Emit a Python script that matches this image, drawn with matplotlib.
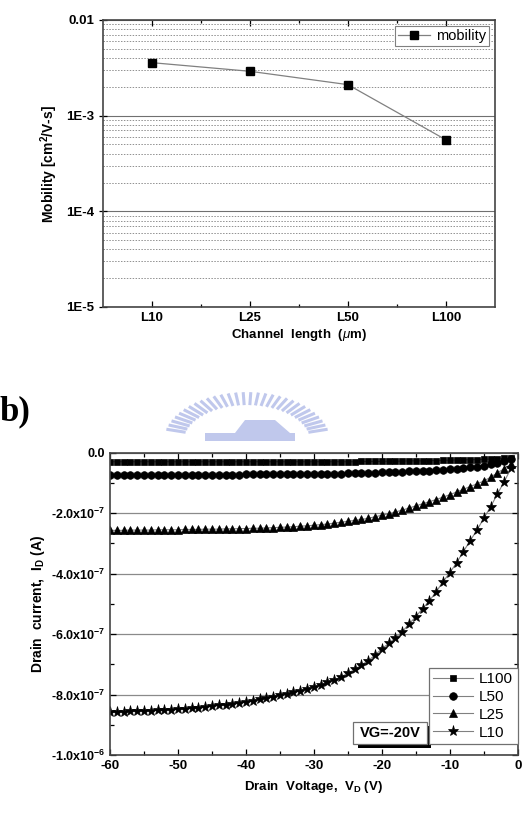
import numpy as np
import matplotlib
matplotlib.use("Agg")
import matplotlib.pyplot as plt
from matplotlib.ticker import LogLocator, NullFormatter, FixedLocator

plt.rcParams['font.family'] = ['Liberation Sans', 'DejaVu Sans']
plt.rcParams['mathtext.fontset'] = 'custom'
plt.rcParams['mathtext.rm'] = 'Liberation Sans'
plt.rcParams['mathtext.it'] = 'Liberation Sans:italic'
plt.rcParams['mathtext.bf'] = 'Liberation Sans:bold'

# ---- data: mobility vs channel length
channels = ['L10', 'L25', 'L50', 'L100']
mobility = [3.58e-3, 2.91e-3, 2.11e-3, 5.6e-4]

# ---- data: output curves, VG = -20 V
vd = list(range(-60, 0))
id_L100 = [-0.30] * 35 + [-0.30, -0.30, -0.29, -0.29, -0.29, -0.29, -0.28, -0.28, -0.28, -0.27,
                          -0.27, -0.27, -0.26, -0.26, -0.25, -0.25, -0.24, -0.24, -0.23, -0.23,
                          -0.22, -0.21, -0.20, -0.19, -0.18]
id_L50 = [-0.74, -0.74, -0.74, -0.74, -0.74, -0.74, -0.74, -0.74, -0.74, -0.74,
          -0.74, -0.74, -0.73, -0.73, -0.73, -0.73, -0.73, -0.73, -0.73, -0.73,
          -0.72, -0.72, -0.72, -0.72, -0.72, -0.72, -0.71, -0.71, -0.71, -0.71,
          -0.71, -0.70, -0.70, -0.69, -0.69, -0.68, -0.68, -0.67, -0.67, -0.66,
          -0.65, -0.64, -0.64, -0.63, -0.62, -0.61, -0.60, -0.59, -0.58, -0.57,
          -0.55, -0.53, -0.51, -0.49, -0.46, -0.43, -0.39, -0.34, -0.28, -0.21]
id_L25 = [-2.57, -2.57, -2.57, -2.56, -2.56, -2.56, -2.56, -2.55, -2.55, -2.55,
          -2.55, -2.54, -2.54, -2.54, -2.53, -2.53, -2.53, -2.52, -2.52, -2.51,
          -2.51, -2.50, -2.50, -2.49, -2.48, -2.47, -2.46, -2.45, -2.43, -2.42,
          -2.40, -2.38, -2.36, -2.33, -2.30, -2.27, -2.24, -2.21, -2.17, -2.12,
          -2.07, -2.02, -1.96, -1.90, -1.83, -1.76, -1.69, -1.62, -1.55, -1.47,
          -1.39, -1.30, -1.21, -1.12, -1.03, -0.94, -0.81, -0.67, -0.53, -0.38]
id_L10 = [-8.59, -8.58, -8.57, -8.56, -8.55, -8.54, -8.53, -8.52, -8.51, -8.50,
          -8.49, -8.47, -8.45, -8.43, -8.41, -8.39, -8.36, -8.33, -8.30, -8.27,
          -8.24, -8.20, -8.16, -8.12, -8.08, -8.03, -7.98, -7.93, -7.87, -7.81,
          -7.75, -7.68, -7.60, -7.52, -7.41, -7.30, -7.17, -7.02, -6.88, -6.69,
          -6.49, -6.31, -6.12, -5.92, -5.67, -5.42, -5.16, -4.90, -4.60, -4.27,
          -3.97, -3.64, -3.27, -2.91, -2.56, -2.17, -1.79, -1.37, -0.96, -0.52]
id_scale = 1e-7
vd_ticks = [-60, -50, -40, -30, -20, -10, 0]

fig = plt.figure(figsize=(5.23, 8.13), dpi=100)

# ================= top panel =================
ax1 = fig.add_axes([0.197, 0.6224, 0.749, 0.353])
x1 = np.arange(1, len(channels) + 1)
ax1.plot(x1, mobility, color='#808080', lw=0.9, marker='s', ms=6,
         mfc='black', mec='black', label='mobility')
ax1.set_yscale('log')
ax1.set_ylim(1e-5, 1e-2)
ax1.set_xlim(0.5, 4.5)
ax1.set_xticks(x1)
ax1.set_xticklabels(channels, fontweight='bold', fontsize=9.5)
ax1.xaxis.set_minor_locator(FixedLocator([1.5, 2.5, 3.5]))
ax1.set_yticks([1e-5, 1e-4, 1e-3, 1e-2])
ax1.set_yticklabels(['1E-5', '1E-4', '1E-3', '0.01'], fontweight='bold', fontsize=9.5)
ax1.yaxis.set_minor_locator(LogLocator(base=10, subs=np.arange(2, 10)))
ax1.yaxis.set_minor_formatter(NullFormatter())
ax1.grid(True, which='major', axis='y', color='#707070', lw=0.8)
ax1.grid(True, which='minor', axis='y', color='#909090', lw=0.7, ls=(0, (1.5, 1.5)))
ax1.tick_params(which='both', direction='in', top=True, right=False, width=0.9)
ax1.tick_params(which='major', length=4)
ax1.tick_params(which='minor', length=2.5)
ax1.tick_params(axis='y', which='major', direction='inout', length=6)
ax1.tick_params(axis='y', which='minor', length=0)
ax1.set_xlabel('Channel  length  ($\\mathit{\\mu}$m)', fontweight='bold', fontsize=9.5, labelpad=2)
ax1.set_ylabel('Mobility [cm$^\\mathbf{2}$/V-s]', fontweight='bold', fontsize=10, labelpad=4)
for s in ax1.spines.values():
    s.set_color('#444444')
    s.set_linewidth(1.2)
leg1 = ax1.legend(loc='upper right', fontsize=10.5, handlelength=2.2, handletextpad=0.4,
                  borderpad=0.2, fancybox=False, framealpha=1, borderaxespad=0.4)
leg1.get_frame().set_edgecolor('#808080')
leg1.get_frame().set_linewidth(0.8)

# ================= watermark (emblem) =================
wm = '#c0c8ec'
cx, cy = 247, 442
for ang in np.linspace(np.radians(165), np.radians(15), 30):
    r0, r1 = 62, 78
    xs = [cx + r0 * np.cos(ang) * 1.05, cx + r1 * np.cos(ang) * 1.05]
    ys = [cy - r0 * np.sin(ang) * 0.62, cy - r1 * np.sin(ang) * 0.62]
    fig.lines.append(plt.Line2D([xx / 523 for xx in xs], [1 - yy / 813 for yy in ys],
                                transform=fig.transFigure, color=wm, lw=2.2))
fig.patches.append(plt.Rectangle((205 / 523, 1 - 441 / 813), 90 / 523, 8 / 813,
                                 transform=fig.transFigure, color=wm, lw=0))
fig.patches.append(plt.Polygon([(235 / 523, 1 - 433 / 813), (245 / 523, 1 - 420 / 813),
                                (275 / 523, 1 - 420 / 813), (290 / 523, 1 - 433 / 813)],
                               closed=True, transform=fig.transFigure, color=wm, lw=0))

fig.text(0.0, 1 - 420 / 813, 'b)', fontsize=25, fontweight='bold', family='Liberation Serif')

# ================= bottom panel =================
ax2 = fig.add_axes([0.2103, 0.0713, 0.7797, 0.3719])
series = [('L100', id_L100, 's', 5), ('L50', id_L50, 'o', 5.5),
          ('L25', id_L25, '^', 6), ('L10', id_L10, '*', 8)]
for name, vals, mk, ms in series:
    ax2.plot(vd, np.array(vals) * id_scale, color='#808080', lw=0.8, marker=mk, ms=ms,
             mfc='black', mec='black', mew=0.5, label=name)
ax2.set_xlim(-60, 0)
ax2.set_ylim(-1.0e-6, 0.0)
ax2.set_xticks(vd_ticks)
ax2.set_xticklabels([str(v) for v in vd_ticks], fontweight='bold', fontsize=9.5)
ax2.xaxis.set_minor_locator(FixedLocator([-55, -45, -35, -25, -15, -5]))
yt = [-1.0e-6, -8e-7, -6e-7, -4e-7, -2e-7, 0.0]
ax2.set_yticks(yt)
ax2.set_yticklabels(['-1.0x10$^{\\mathbf{-6}}$', '-8.0x10$^{\\mathbf{-7}}$', '-6.0x10$^{\\mathbf{-7}}$',
                     '-4.0x10$^{\\mathbf{-7}}$', '-2.0x10$^{\\mathbf{-7}}$', '0.0'],
                    fontweight='bold', fontsize=9)
ax2.yaxis.set_minor_locator(FixedLocator([-9e-7, -7e-7, -5e-7, -3e-7, -1e-7]))
ax2.grid(True, which='major', axis='y', color='#8a8a8a', lw=0.9)
ax2.tick_params(which='both', direction='in', top=True, right=True, width=0.9)
ax2.tick_params(which='major', length=4.5)
ax2.tick_params(which='minor', length=3)
ax2.set_xlabel('Drain  Voltage,  V$_\\mathbf{D}$ (V)', fontweight='bold', fontsize=9.5, labelpad=5)
ax2.set_ylabel('Drain  current,  I$_\\mathbf{D}$ (A)', fontweight='bold', fontsize=10, labelpad=3)
for s in ax2.spines.values():
    s.set_color('#444444')
    s.set_linewidth(1.2)
leg2 = ax2.legend(loc='lower right', bbox_to_anchor=(1.0, 0.036), fontsize=11,
                  handlelength=2.6, handletextpad=0.4, borderpad=0.3, labelspacing=0.25,
                  fancybox=False, framealpha=1, borderaxespad=0.0)
leg2.get_frame().set_edgecolor('#707070')
leg2.get_frame().set_linewidth(0.9)

# VG label box with a drop shadow
bx0, by0, bw, bh = 0.596, 0.036, 0.181, 0.073
ax2.add_patch(plt.Rectangle((bx0 + 0.011, by0 - 0.014), bw, bh, transform=ax2.transAxes,
                            fc='black', ec='black', lw=0, zorder=5))
ax2.add_patch(plt.Rectangle((bx0, by0), bw, bh, transform=ax2.transAxes,
                            fc='white', ec='#707070', lw=0.9, zorder=6))
ax2.text(bx0 + bw / 2, by0 + bh / 2, 'VG=-20V', transform=ax2.transAxes, fontsize=10.5,
         fontweight='bold', ha='center', va='center', color='black', zorder=7)

fig.savefig('out.png', dpi=100)
